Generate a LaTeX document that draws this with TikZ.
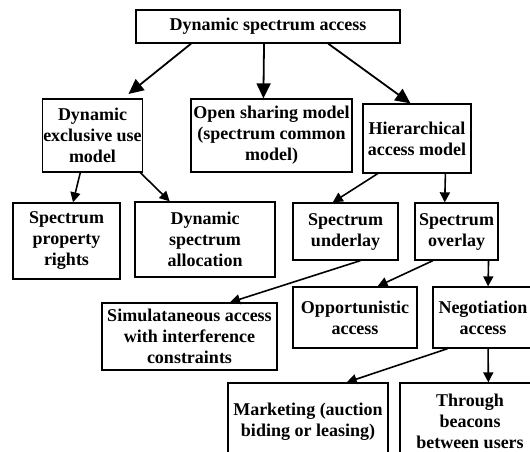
\documentclass[tikz,border=0pt]{standalone}
\usepackage{fontspec}
\setmainfont{Liberation Serif}
\usetikzlibrary{arrows.meta,calc}

\tikzset{
  box/.style={draw=black, line width=1.3pt, align=center, inner sep=1pt,
    font=\bfseries\fontsize{18}{21}\selectfont},
  link/.style={-{Triangle[length=10pt,width=10pt]}, line width=1.6pt},
  biglink/.style={-{Triangle[length=15pt,width=14pt]}, line width=1.8pt},
}

\begin{document}
\begin{tikzpicture}[x=1pt,y=-1pt]
\useasboundingbox (0,0) rectangle (530,452);
\clip (0,0) rectangle (530,452);

% level 0 and 1
\node[box, minimum width=264pt, minimum height=33pt] (dsa)   at (268,26.5)  {Dynamic spectrum access};
\node[box, minimum width=87pt,  minimum height=73pt] (excl)  at (92.5,135.5) {Dynamic\\exclusive use\\model};
\node[box, minimum width=161pt, minimum height=73pt] (open)  at (271.5,135.5) {Open sharing model\\(spectrum common\\model)};
\node[box, minimum width=108pt, minimum height=69pt] (hier)  at (417,138.5) {Hierarchical\\access model};

% level 2
\node[box, minimum width=107pt, minimum height=76pt] (prop)  at (66.5,241)  {Spectrum\\property\\rights};
\node[box, minimum width=140pt, minimum height=75pt] (alloc) at (205,239.5) {Dynamic\\spectrum\\allocation};
\node[box, minimum width=105pt, minimum height=57pt] (under) at (345.5,231.5) {Spectrum\\underlay};
\node[box, minimum width=83pt,  minimum height=57pt] (over)  at (456.5,231.5) {Spectrum\\overlay};

% level 3 and 4
\node[box, minimum width=175pt, minimum height=67pt] (simul)   at (189.5,336.5) {Simulataneous access\\with interference\\constraints};
\node[box, minimum width=124pt, minimum height=61pt] (opport)  at (355,317.5) {Opportunistic\\access};
\node[box, minimum width=100pt, minimum height=61pt] (negot)   at (483,317.5) {Negotiation\\access};
\node[box, minimum width=160pt, minimum height=77pt] (market)  at (308,421.5) {Marketing (auction\\biding or leasing)};
\node[box, minimum width=140pt, minimum height=77pt] (beacon)  at (470,421.5) {Through\\beacons\\between users};

% arrows
\draw[biglink, shorten >=7pt] ($(dsa.south west)!.21!(dsa.south east)$) -- ($(excl.north west)!.8!(excl.north east)$);
\draw[biglink] ($(dsa.south west)!.485!(dsa.south east)$) -- ($(open.north west)!.45!(open.north east)$);
\draw[biglink] ($(dsa.south west)!.727!(dsa.south east)$) -- ($(hier.north west)!.44!(hier.north east)$);

\draw[link] ($(excl.south west)!.38!(excl.south east)$) -- ($(prop.north west)!.56!(prop.north east)$);
\draw[link] ($(excl.south west)!.97!(excl.south east)$) -- ($(alloc.north west)!.25!(alloc.north east)$);
\draw[link] ($(hier.south west)!.14!(hier.south east)$) -- ($(under.north west)!.38!(under.north east)$);
\draw[link] ($(hier.south west)!.76!(hier.south east)$) -- ($(over.north west)!.36!(over.north east)$);

\draw[link] ($(under.south west)!.64!(under.south east)$) -- ($(simul.north west)!.73!(simul.north east)$);
\draw[link] ($(over.south west)!.22!(over.south east)$) -- ($(opport.north west)!.68!(opport.north east)$);
\draw[link] ($(over.south west)!.88!(over.south east)$) -- ($(negot.north west)!.55!(negot.north east)$);

\draw[link] ($(negot.south west)!.15!(negot.south east)$) -- ($(market.north west)!.74!(market.north east)$);
\draw[link] ($(negot.south west)!.55!(negot.south east)$) -- ($(beacon.north west)!.63!(beacon.north east)$);
\end{tikzpicture}
\end{document}
